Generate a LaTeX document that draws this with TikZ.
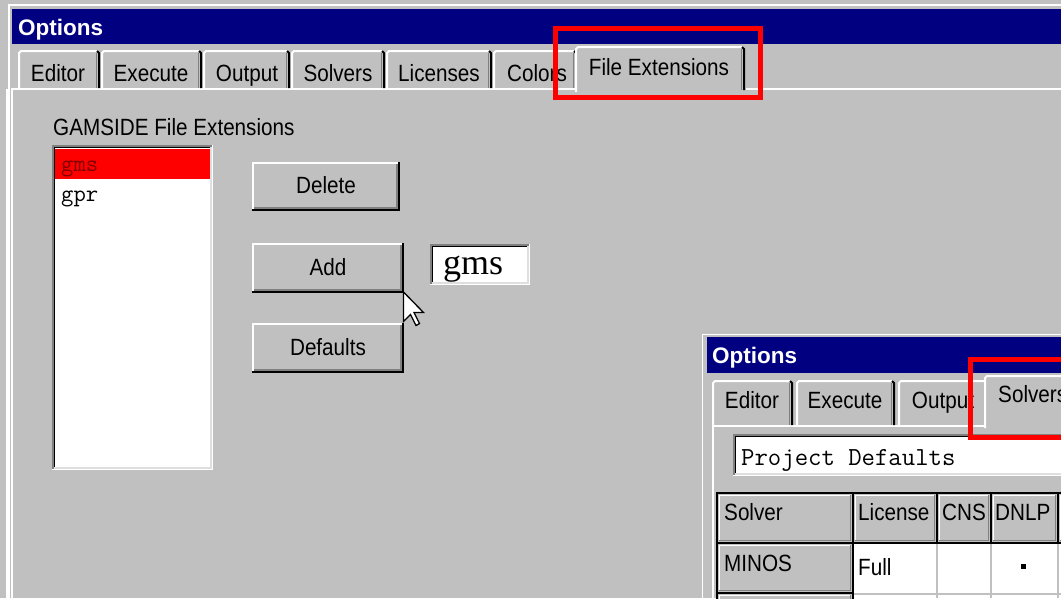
\documentclass[tikz,border=0pt]{standalone}
\usepackage{fontspec}
\newfontfamily\ui{Liberation Sans}[FakeStretch=0.88]
\newfontfamily\uibold{Liberation Sans Bold}
\newfontfamily\uiserif{Liberation Serif}
\definecolor{wingray}{HTML}{C0C0C0}
\definecolor{winshade}{HTML}{808080}
\definecolor{winlight}{HTML}{DFDFDF}
\definecolor{winnavy}{HTML}{000080}
\definecolor{selred}{HTML}{FF0000}
\definecolor{seltext}{HTML}{800000}

\tikzset{
  uitext/.style={font=\ui\fontsize{23.5}{26}\selectfont, inner sep=0pt, anchor=base},
  uititle/.style={font=\uibold\fontsize{22.5}{26}\selectfont, text=white, inner sep=0pt, anchor=base west},
  monotext/.style={font=\ttfamily\fontsize{24}{26}\selectfont, inner sep=0pt, anchor=base west},
  serifbig/.style={font=\uiserif\fontsize{36}{40}\selectfont, inner sep=0pt, anchor=base west},
  hilite/.style={draw=selred, line width=5pt},
}

% raised 3D face: x1 y1 x2 y2
\newcommand\raisedface[4]{%
  \fill[wingray] (#1,#2) rectangle (#3,#4);
  \draw[white,line width=2pt] (#1+1,#4-1) -- (#1+1,#2+1) -- (#3-1,#2+1);
  \draw[black,line width=2pt] (#1,#4-1) -- (#3-1,#4-1) -- (#3-1,#2);
  \draw[winshade,line width=2pt] (#1+2,#4-3) -- (#3-3,#4-3) -- (#3-3,#2+2);
}
% sunken white field: x1 y1 x2 y2
\newcommand\sunkenfield[4]{%
  \fill[white] (#1,#2) rectangle (#3,#4);
  \draw[winshade,line width=1.5pt] (#1+0.75,#4) -- (#1+0.75,#2+0.75) -- (#3,#2+0.75);
  \draw[black,line width=1.5pt] (#1+2.25,#4-1.5) -- (#1+2.25,#2+2.25) -- (#3-1.5,#2+2.25);
  \draw[white,line width=1.5pt] (#1,#4-0.75) -- (#3-0.75,#4-0.75) -- (#3-0.75,#2);
  \draw[winlight,line width=1.5pt] (#1+1.5,#4-2.25) -- (#3-2.25,#4-2.25) -- (#3-2.25,#2+1.5);
}
% tab: x1 x2 ytop ybottom
\newcommand\tabface[4]{%
  \fill[wingray] (#1,#4) rectangle (#2,#3);
  \draw[white,line width=2pt] (#1+1,#4) -- (#1+1,#3+3) -- (#1+3,#3+1) -- (#2-3,#3+1);
  \draw[black,line width=2pt] (#2-3,#3+1) -- (#2-1,#3+3) -- (#2-1,#4);
  \draw[winshade,line width=1.5pt] (#2-3.5,#3+3) -- (#2-3.5,#4);
}
% table header cell: x1 y1 x2 y2
\newcommand\headcell[4]{%
  \fill[wingray] (#1,#2) rectangle (#3,#4);
  \draw[white,line width=1.5pt] (#1+2.5,#4-2) -- (#1+2.5,#2+2.5) -- (#3-2,#2+2.5);
  \draw[winshade,line width=1.5pt] (#1+2,#4-2.5) -- (#3-2.5,#4-2.5) -- (#3-2.5,#2+2);
  \draw[black,line width=2pt] (#1,#2) rectangle (#3,#4);
}

\begin{document}
\begin{tikzpicture}[x=1pt,y=-1pt]
\useasboundingbox (0,0) rectangle (1061,598);
\clip (0,0) rectangle (1061,598);

% ---------- main Options window ----------
\fill[wingray] (0,0) rectangle (1061,598);
\draw[white,line width=1.5pt] (9,598) -- (9,5) -- (1061,5);
\fill[winnavy] (12,9) rectangle (1061,44);
\node[uititle] (t1) at (18,35) {Options};

% tab strip
\draw[white,line width=2pt] (12,598) -- (12,89) -- (1061,89);
\draw[white,line width=1.5pt] (7,598) -- (7,89);
\tabface{18}{100}{50}{88}
\node[uitext] (tEditor) at (58,81) {Editor};
\tabface{101}{202}{50}{88}
\node[uitext] (tExecute) at (151,81) {Execute};
\tabface{203}{290}{50}{88}
\node[uitext] (tOutput) at (247,81) {Output};
\tabface{291}{385}{50}{88}
\node[uitext] (tSolvers) at (338,81) {Solvers};
\tabface{386}{492}{50}{88}
\node[uitext] (tLicenses) at (439,81) {Licenses};
\tabface{493}{577}{50}{88}
\node[uitext] (tColors) at (537,81) {Colors};
% active tab
\fill[wingray] (575,46) rectangle (746,92);
\draw[white,line width=2pt] (576,92) -- (576,49) -- (578,47) -- (742,47);
\draw[black,line width=2pt] (742,47) -- (744,49) -- (744,90);
\draw[winshade,line width=1.5pt] (741.5,49) -- (741.5,90);
\node[uitext] (tFileExt) at (659,75) {File Extensions};
\draw[hilite] (555.5,28.5) rectangle (760.5,97.5);

% file extension list
\node[uitext,anchor=base west] (lblExt) at (53,135) {GAMSIDE File Extensions};
\sunkenfield{52}{145}{213}{470}
\fill[selred] (55,149) rectangle (210,179);
\node[monotext,text=seltext] (itemGms) at (61,171) {gms};
\node[monotext] (itemGpr) at (61,201) {gpr};

% buttons
\raisedface{252}{162}{400}{211}
\node[uitext] (bDelete) at (326,193) {Delete};
\raisedface{252}{243}{404}{293}
\node[uitext] (bAdd) at (328,275) {Add};
\raisedface{252}{323}{404}{373}
\node[uitext] (bDefaults) at (328,355) {Defaults};

% new extension field
\sunkenfield{430}{244}{530}{285}
\node[serifbig] (newExt) at (443,274) {gms};

% mouse pointer
\filldraw[fill=white,draw=black,line width=1.3pt,line join=miter]
  (403.5,292) -- (403.5,321.5) -- (410.5,314.5) -- (416,325.5) -- (419.5,323.5)
  -- (414,312.5) -- (423.5,312.5) -- cycle;

% ---------- second Options window ----------
\fill[wingray] (701,333) rectangle (1061,598);
\draw[white,line width=1.5pt] (702.5,598) -- (702.5,334.5) -- (1061,334.5);
\fill[winnavy] (707,337) rectangle (1061,373);
\node[uititle] (t2) at (712,363) {Options};

\draw[white,line width=2pt] (713,598) -- (713,426) -- (1061,426);
\tabface{712}{793}{380}{425}
\node[uitext] (uEditor) at (752,408) {Editor};
\tabface{796}{895}{380}{425}
\node[uitext] (uExecute) at (845,408) {Execute};
\tabface{898}{990}{380}{425}
\node[uitext] (uOutput) at (943,408) {Output};
\fill[wingray] (984,375) rectangle (1070,428);
\draw[white,line width=2pt] (985,428) -- (985,378) -- (987,376) -- (1070,376);
\node[uitext,anchor=base west] (uSolvers) at (998,402) {Solvers};

% project selector
\sunkenfield{733}{434}{1075}{476}
\node[monotext,font=\ttfamily\fontsize{26}{28}\selectfont] (proj) at (741,465) {Project Defaults};

% solver table
\fill[white] (853,543) rectangle (1061,598);
\draw[wingray,line width=1.2pt] (937,543) -- (937,598);
\draw[wingray,line width=1.2pt] (991,543) -- (991,598);
\draw[wingray,line width=1.2pt] (1058,543) -- (1058,598);
\draw[wingray,line width=1.2pt] (853,594) -- (1061,594);
\headcell{717}{493}{853}{543}
\headcell{853}{493}{937}{543}
\headcell{937}{493}{991}{543}
\headcell{991}{493}{1058}{543}
\headcell{1058}{493}{1080}{543}
\headcell{717}{543}{853}{593}
\headcell{717}{593}{853}{640}
\draw[black,line width=2pt] (853,543) -- (853,598);
\node[uitext,anchor=base west] (hSolver) at (724,520) {Solver};
\node[uitext,anchor=base west] (hLicense) at (858,520) {License};
\node[uitext,anchor=base west] (hCNS) at (942,520) {CNS};
\node[uitext,anchor=base west] (hDNLP) at (995,520) {DNLP};
\node[uitext,anchor=base west] (rMinos) at (724,571) {MINOS};
\node[uitext,anchor=base west] (rFull) at (858,575) {Full};
\fill[black] (1021,564) rectangle (1026,569);
\draw[hilite] (970.5,359.5) rectangle (1075,437.5);

\end{tikzpicture}
\end{document}
